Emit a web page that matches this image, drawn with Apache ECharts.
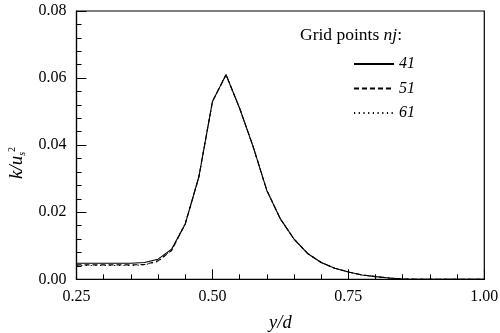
<!DOCTYPE html>
<html>
<head>
<meta charset="utf-8">
<script src="https://cdn.jsdelivr.net/npm/echarts@6/dist/echarts.min.js"></script>
<style>html,body{margin:0;padding:0;background:#fff}#c{width:500px;height:333px}</style>
</head>
<body>
<div id="c"></div>
<script>
const xValues = [0.25,0.275,0.30,0.325,0.35,0.375,0.40,0.425,0.45,0.475,0.50,0.525,0.55,0.575,0.60,0.625,0.65,0.675,0.70,0.725,0.75,0.775,0.80,0.825,0.85,0.875,0.90,0.925,0.95,0.975,1.00];
const k41 = [0.0048,0.0048,0.0048,0.0048,0.0048,0.0050,0.0060,0.0090,0.0165,0.0305,0.0530,0.0610,0.0510,0.0395,0.0265,0.0180,0.0120,0.0077,0.0050,0.0033,0.0022,0.0013,0.0008,0.0004,0.0001,0.00003,0,0,0,0,0];
const k51 = [0.0043,0.0043,0.0043,0.0043,0.0043,0.0044,0.0055,0.0086,0.0165,0.0305,0.0530,0.0610,0.0510,0.0395,0.0265,0.0180,0.0120,0.0077,0.0050,0.0033,0.0022,0.0013,0.0008,0.0004,0.0001,0.00003,0,0,0,0,0];
const k61 = [0.0041,0.0041,0.0041,0.0041,0.0041,0.0043,0.0053,0.0088,0.0167,0.0305,0.0530,0.0610,0.0510,0.0395,0.0265,0.0180,0.0120,0.0077,0.0050,0.0033,0.0022,0.0013,0.0008,0.0004,0.0001,0.00003,0,0,0,0,0];
const seriesNames = ['41','51','61'];
const legendTitle = 'Grid points ';
const xTitle = 'y/d';

const F = '"Liberation Serif", "Times New Roman", serif';
const pair = arr => xValues.map((x,i)=>[x,arr[i]]);
const chart = echarts.init(document.getElementById('c'), null, {renderer:'canvas'});
const mk = (name, arr, type) => ({
  name, type:'line', data: pair(arr), symbol:'none', showSymbol:false, silent:true, animation:false,
  lineStyle:{color:'#000', width:1.1, type}, itemStyle:{color:'#000'}
});
chart.setOption({
  animation:false,
  backgroundColor:'#fff',
  grid:{left:76.5, right:15.7, top:11, bottom:53.7, show:true, borderColor:'#000', borderWidth:1.2,
        containLabel:false, outerBoundsMode:'none'},
  xAxis:{
    type:'value', min:0.25, max:1.0, interval:0.25,
    axisLine:{lineStyle:{color:'#000', width:1.2}},
    axisTick:{inside:true, length:10, lineStyle:{color:'#000'}},
    minorTick:{show:true, splitNumber:5, length:5, lineStyle:{color:'#000'}},
    splitLine:{show:false},
    axisLabel:{fontFamily:F, fontSize:16, color:'#000', margin:9, formatter:v=>v.toFixed(2)},
    name: xTitle, nameLocation:'middle', nameGap:34,
    nameTextStyle:{fontFamily:F, fontSize:18.5, fontStyle:'italic', color:'#000'}
  },
  yAxis:{
    type:'value', min:0, max:0.08, interval:0.02,
    axisLine:{lineStyle:{color:'#000', width:1.2}},
    axisTick:{inside:true, length:10, lineStyle:{color:'#000'}},
    minorTick:{show:true, splitNumber:5, length:5, lineStyle:{color:'#000'}},
    splitLine:{show:false},
    axisLabel:{fontFamily:F, fontSize:16, color:'#000', margin:10, formatter:v=>v.toFixed(2)}
  },
  legend:{
    orient:'vertical', left:348, top:51, itemWidth:40, itemHeight:10, itemGap:8.5,
    data:seriesNames, selectedMode:false,
    itemStyle:{opacity:0},
    textStyle:{fontFamily:F, fontSize:16, fontStyle:'italic', color:'#000', lineHeight:16}
  },
  graphic:[{
    type:'text', left:300, top:26,
    style:{text:'{n|'+legendTitle+'}{i|nj}{n|:}', rich:{
      n:{fontFamily:F, fontSize:17.5, fill:'#000'},
      i:{fontFamily:F, fontSize:17.5, fontStyle:'italic', fill:'#000'}
    }}
  },{
    type:'text', x:17, y:163, rotation:Math.PI/2,
    style:{text:'{a|k/u}{s|s}{t|2}', align:'center', verticalAlign:'middle', rich:{
      a:{fontFamily:F, fontSize:19, fontStyle:'italic', fill:'#000'},
      s:{fontFamily:F, fontSize:10, fontStyle:'italic', fill:'#000', padding:[10,0,0,0]},
      t:{fontFamily:F, fontSize:10, fill:'#000', padding:[0,0,10,0]}
    }}
  }],
  series:[mk(seriesNames[0],k41,'solid'), mk(seriesNames[1],k51,[5,3]), mk(seriesNames[2],k61,[1.2,3.5])]
});
</script>
</body>
</html>
